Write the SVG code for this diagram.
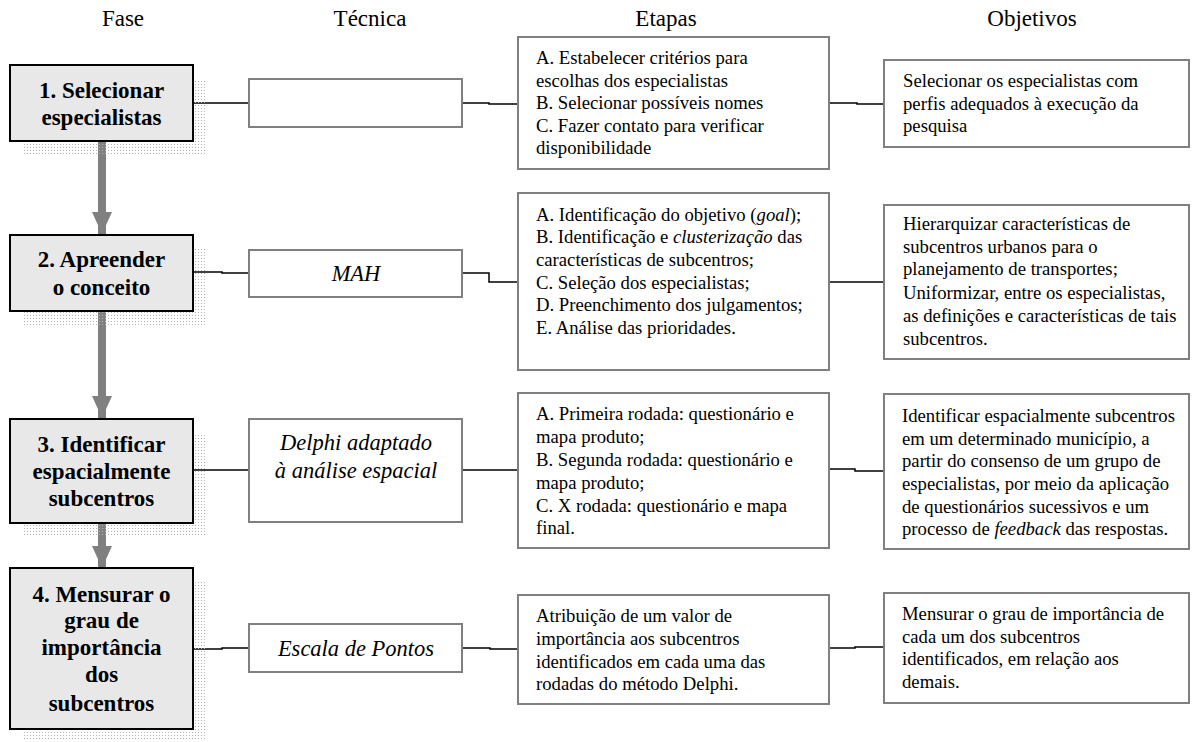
<svg xmlns="http://www.w3.org/2000/svg" width="1192" height="742" viewBox="0 0 1192 742">
<defs>
<pattern id="dots" width="3" height="3" patternUnits="userSpaceOnUse">
<rect x="0" y="0" width="1" height="1" fill="#b4b4b4"/>
</pattern>
<marker id="ah" viewBox="0 0 22 20" refX="22" refY="10" markerWidth="22" markerHeight="20" markerUnits="userSpaceOnUse" orient="auto">
<path d="M0,0 L22,10 L0,20 Z" fill="#808080"/>
</marker>
</defs>
<style>
text{font-family:'Liberation Serif','Times New Roman',Times,serif;fill:#000}
.hd{font-size:23px;text-anchor:middle}
.ph{font-size:23px;font-weight:bold;text-anchor:middle}
.tq{font-size:22.5px;font-style:italic;text-anchor:middle}
.bd{font-size:18.7px}
.it{font-style:italic}
.pbox{fill:#e8e8e8;stroke:#000;stroke-width:2}
.shadow{fill:url(#dots)}
.box{fill:#fff;stroke:#808080;stroke-width:2}
.con{fill:none;stroke:#000;stroke-width:1.5}
.flow{fill:none;stroke:#808080;stroke-width:8}
</style>
<rect width="1192" height="742" fill="#fff"/>
<g font-family="Liberation Serif, Times New Roman, Times, serif">

<g id="headers">
<text class="hd" x="123" y="26">Fase</text>
<text class="hd" x="370" y="26">Técnica</text>
<text class="hd" x="666" y="26">Etapas</text>
<text class="hd" x="1032" y="26">Objetivos</text>
</g>

<g id="connectors">
<path class="con" d="M193,103 H249"/>
<path class="con" d="M462,103 H489 V104 H518"/>
<path class="con" d="M829,103 H857 V104 H884"/>
<path class="con" d="M193,272 H222 V273 H249"/>
<path class="con" d="M462,273 H489 V282 H518"/>
<path class="con" d="M829,282 H884"/>
<path class="con" d="M193,470 H249"/>
<path class="con" d="M462,470 H518"/>
<path class="con" d="M829,469 H855 V471 H884"/>
<path class="con" d="M193,649 H222 V648 H249"/>
<path class="con" d="M462,648 H490 V649 H518"/>
<path class="con" d="M829,648 H855 V647 H884"/>
<path class="flow" d="M102,141 V234" marker-end="url(#ah)"/>
<path class="flow" d="M102,311 V418" marker-end="url(#ah)"/>
<path class="flow" d="M102,523 V568" marker-end="url(#ah)"/>
</g>

<g id="fase1">
<rect class="shadow" x="24" y="79" width="183" height="76"/>
<rect class="pbox" x="10" y="65" width="183" height="76"/>
<text class="ph" x="101.5" y="98">1. Selecionar</text>
<text class="ph" x="101.5" y="125">especialistas</text>
</g>
<g id="fase2">
<rect class="shadow" x="24" y="249" width="183" height="76"/>
<rect class="pbox" x="10" y="235" width="183" height="76"/>
<text class="ph" x="101.5" y="267">2. Apreender</text>
<text class="ph" x="101.5" y="295">o conceito</text>
</g>
<g id="fase3">
<rect class="shadow" x="24" y="433" width="183" height="104"/>
<rect class="pbox" x="10" y="419" width="183" height="104"/>
<text class="ph" x="101.5" y="452">3. Identificar</text>
<text class="ph" x="101.5" y="479">espacialmente</text>
<text class="ph" x="101.5" y="506">subcentros</text>
</g>
<g id="fase4">
<rect class="shadow" x="24" y="582" width="183" height="159"/>
<rect class="pbox" x="10" y="568" width="183" height="161"/>
<text class="ph" x="101.5" y="602">4. Mensurar o</text>
<text class="ph" x="101.5" y="628">grau de</text>
<text class="ph" x="101.5" y="655">importância</text>
<text class="ph" x="101.5" y="682">dos</text>
<text class="ph" x="101.5" y="711">subcentros</text>
</g>

<g id="tecnica1">
<rect class="box" x="249" y="79" width="213" height="48"/>
</g>
<g id="tecnica2">
<rect class="box" x="249" y="250" width="213" height="47"/>
<text class="tq" x="356" y="281">MAH</text>
</g>
<g id="tecnica3">
<rect class="box" x="249" y="419" width="213" height="103"/>
<text class="tq" x="356" y="450">Delphi adaptado</text>
<text class="tq" x="356" y="478">à análise espacial</text>
</g>
<g id="tecnica4">
<rect class="box" x="249" y="624" width="213" height="48"/>
<text class="tq" x="356" y="656">Escala de Pontos</text>
</g>

<g id="etapas1">
<rect class="box" x="518" y="37" width="311" height="132"/>
<text class="bd" x="536" y="64">A. Estabelecer critérios para</text>
<text class="bd" x="536" y="87">escolhas dos especialistas</text>
<text class="bd" x="536" y="109">B. Selecionar possíveis nomes</text>
<text class="bd" x="536" y="132">C. Fazer contato para verificar</text>
<text class="bd" x="536" y="154">disponibilidade</text>
</g>
<g id="etapas2">
<rect class="box" x="518" y="193" width="311" height="177"/>
<text class="bd" x="536" y="221">A. Identificação do objetivo (<tspan class="it">goal</tspan>);</text>
<text class="bd" x="536" y="243">B. Identificação e <tspan class="it">clusterização</tspan> das</text>
<text class="bd" x="536" y="266">características de subcentros;</text>
<text class="bd" x="536" y="289">C. Seleção dos especialistas;</text>
<text class="bd" x="536" y="311">D. Preenchimento dos julgamentos;</text>
<text class="bd" x="536" y="334">E. Análise das prioridades.</text>
</g>
<g id="etapas3">
<rect class="box" x="518" y="393" width="311" height="155"/>
<text class="bd" x="536" y="420">A. Primeira rodada: questionário e</text>
<text class="bd" x="536" y="443">mapa produto;</text>
<text class="bd" x="536" y="466">B. Segunda rodada: questionário e</text>
<text class="bd" x="536" y="489">mapa produto;</text>
<text class="bd" x="536" y="512">C. X rodada: questionário e mapa</text>
<text class="bd" x="536" y="534">final.</text>
</g>
<g id="etapas4">
<rect class="box" x="518" y="595" width="311" height="109"/>
<text class="bd" x="536" y="622">Atribuição de um valor de</text>
<text class="bd" x="536" y="645">importância aos subcentros</text>
<text class="bd" x="536" y="668">identificados em cada uma das</text>
<text class="bd" x="536" y="690">rodadas do método Delphi.</text>
</g>

<g id="objetivo1">
<rect class="box" x="884" y="60" width="305" height="87"/>
<text class="bd" x="903" y="87">Selecionar os especialistas com</text>
<text class="bd" x="903" y="110">perfis adequados à execução da</text>
<text class="bd" x="903" y="132">pesquisa</text>
</g>
<g id="objetivo2">
<rect class="box" x="884" y="205" width="305" height="154"/>
<text class="bd" x="903" y="230">Hierarquizar características de</text>
<text class="bd" x="903" y="253">subcentros urbanos para o</text>
<text class="bd" x="903" y="275">planejamento de transportes;</text>
<text class="bd" x="903" y="299">Uniformizar, entre os especialistas,</text>
<text class="bd" x="903" y="322">as definições e características de tais</text>
<text class="bd" x="903" y="345">subcentros.</text>
</g>
<g id="objetivo3">
<rect class="box" x="884" y="394" width="305" height="155"/>
<text class="bd" x="902" y="422">Identificar espacialmente subcentros</text>
<text class="bd" x="902" y="445">em um determinado município, a</text>
<text class="bd" x="902" y="467">partir do consenso de um grupo de</text>
<text class="bd" x="902" y="490">especialistas, por meio da aplicação</text>
<text class="bd" x="902" y="513">de questionários sucessivos e um</text>
<text class="bd" x="902" y="535">processo de <tspan class="it">feedback</tspan> das respostas.</text>
</g>
<g id="objetivo4">
<rect class="box" x="884" y="593" width="305" height="110"/>
<text class="bd" x="902" y="620">Mensurar o grau de importância de</text>
<text class="bd" x="902" y="643">cada um dos subcentros</text>
<text class="bd" x="902" y="665">identificados, em relação aos</text>
<text class="bd" x="902" y="688">demais.</text>
</g>
</g>
</svg>
